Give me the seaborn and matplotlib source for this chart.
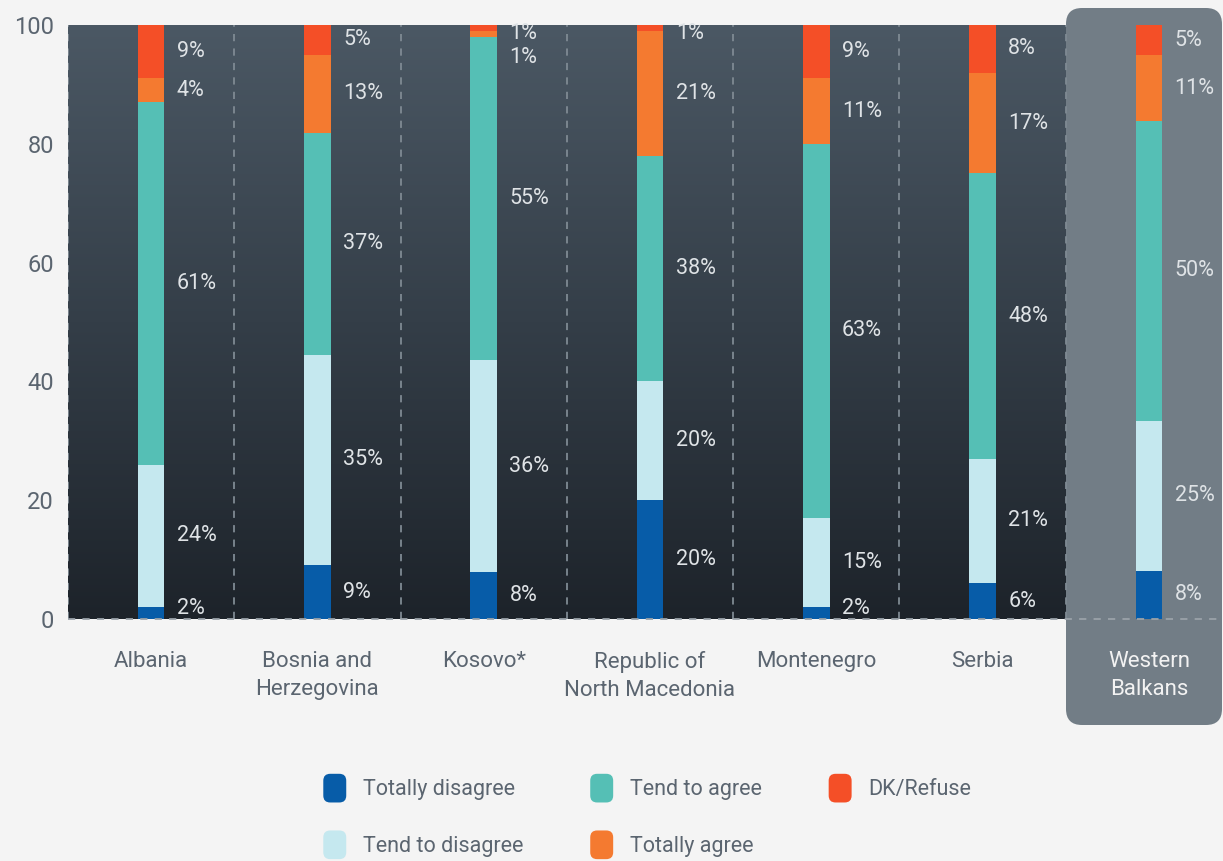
import numpy as np
import pandas as pd
import matplotlib.pyplot as plt
import matplotlib.patches as mpatches
import matplotlib.transforms as mtransforms
from matplotlib.colors import LinearSegmentedColormap
from matplotlib.legend_handler import HandlerPatch
import seaborn as sns

# data (percent, as printed on the chart)
countries = ['Albania', 'Bosnia and\nHerzegovina', 'Kosovo*', 'Republic of\nNorth Macedonia',
             'Montenegro', 'Serbia', 'Western\nBalkans']
answers = ['Totally disagree', 'Tend to disagree', 'Tend to agree', 'Totally agree', 'DK/Refuse']
totally_disagree = [2, 9, 8, 20, 2, 6, 8]
tend_to_disagree = [24, 35, 36, 20, 15, 21, 25]
tend_to_agree = [61, 37, 55, 38, 63, 48, 50]
totally_agree = [4, 13, 1, 21, 11, 17, 11]
dk_refuse = [9, 5, 1, 1, 9, 8, 5]

colors = ['#075ca8', '#c5e8ef', '#55bfb5', '#f47a30', '#f44f27']

sns.set_theme(style='white')
plt.rcParams['font.family'] = ['Roboto', 'DejaVu Sans']

df = pd.DataFrame({'country': countries,
                   'Totally disagree': totally_disagree,
                   'Tend to disagree': tend_to_disagree,
                   'Tend to agree': tend_to_agree,
                   'Totally agree': totally_agree,
                   'DK/Refuse': dk_refuse})
# rounded shares don't always add to 100 -> rescale the bar heights
vals = df[answers].to_numpy(dtype=float)
heights = vals / vals.sum(axis=1, keepdims=True) * 100
cum = np.cumsum(heights, axis=1)
cum_df = pd.DataFrame(cum, columns=answers)
cum_df['country'] = countries

fig = plt.figure(figsize=(12.23, 8.61), dpi=100, facecolor='#f4f4f4')
W, H = 1223, 861

# grey panel behind "Western Balkans"
panel = mpatches.FancyBboxPatch((1066, H - 725), 156, 717,
                                boxstyle='round,pad=0,rounding_size=16',
                                facecolor='#727d86', edgecolor='none',
                                transform=mtransforms.IdentityTransform(), zorder=-1)
fig.patches.append(panel)

ax = fig.add_axes([68 / W, 1 - 619 / H, 1164 / W, 594 / H])
ax.set_facecolor('none')

# gradient background for the country columns
grad = np.linspace(0, 1, 256).reshape(-1, 1)
cmap = LinearSegmentedColormap.from_list('bg', ['#1d232a', '#343e48', '#4b5864'])
ax.imshow(grad, extent=(-0.5, 5.5, 0, 100), origin='lower', aspect='auto',
          cmap=cmap, zorder=0)

# stacked bars: draw cumulative totals from the top segment down
for i in range(len(answers) - 1, -1, -1):
    sns.barplot(data=cum_df, x='country', y=answers[i], color=colors[i],
                saturation=1, width=0.16, ax=ax, zorder=3,
                edgecolor='none', linewidth=0)

# separators
ax.vlines(np.arange(-0.5, 6, 1), 0, 100, colors='#7f8a93', linestyles=(0, (4, 4)),
          lw=1.3, zorder=1)
ax.hlines(0, -0.5, 6.5, colors='#9aa2a9', linestyles=(0, (4, 4)), lw=1.3,
          zorder=4, clip_on=False)

# value labels
for j in range(len(countries)):
    prev = 98.6 + 4
    ys = {}
    for i in range(len(answers) - 1, -1, -1):
        center = cum[j, i] - heights[j, i] / 2
        y = min(center, prev - 4)
        y = max(y, 1.8)
        ys[i] = y
        prev = y
    for i in range(len(answers)):
        ax.text(j + 0.08 + 0.075, ys[i], f'{vals[j, i]:.0f}%', color='#dfe3e6',
                fontsize=15.5, ha='left', va='center', zorder=5)

ax.set_xlim(-0.5, 6.5)
ax.set_ylim(0, 100)
ax.set_yticks(range(0, 101, 20))
ax.set_xlabel('')
ax.set_ylabel('')
ax.tick_params(axis='y', length=0, pad=10, labelsize=17, labelcolor='#5b6570')
ax.tick_params(axis='x', length=0, pad=23, labelsize=16, labelcolor='#5b6570')
for t in ax.get_xticklabels():
    t.set_linespacing(1.45)
ax.get_xticklabels()[-1].set_color('#f2f2f2')
for s in ax.spines.values():
    s.set_visible(False)


class RoundBox(HandlerPatch):
    def create_artists(self, legend, orig_handle, xdescent, ydescent, width, height,
                       fontsize, trans):
        h = height * 1.3
        w = h * 0.8
        x0 = (width - w) / 2 - xdescent
        y0 = (height - h) / 2 - ydescent
        p = mpatches.FancyBboxPatch((x0, y0), w, h,
                                    boxstyle=f'round,pad=0,rounding_size={w * 0.3}',
                                    facecolor=orig_handle.get_facecolor(),
                                    edgecolor='none', transform=trans)
        return [p]


handles = [mpatches.Patch(facecolor=c, label=a) for a, c in zip(answers, colors)]
fig.legend(handles=handles, loc='center', bbox_to_anchor=(0.529, 0.051), ncol=3,
           frameon=False, fontsize=15.5, labelcolor='#5b6570', labelspacing=1.55,
           columnspacing=3.1, handletextpad=0.75, handlelength=1.1, handleheight=1.2,
           handler_map={mpatches.Patch: RoundBox()})

fig.savefig('out.png', dpi=100, facecolor=fig.get_facecolor())
